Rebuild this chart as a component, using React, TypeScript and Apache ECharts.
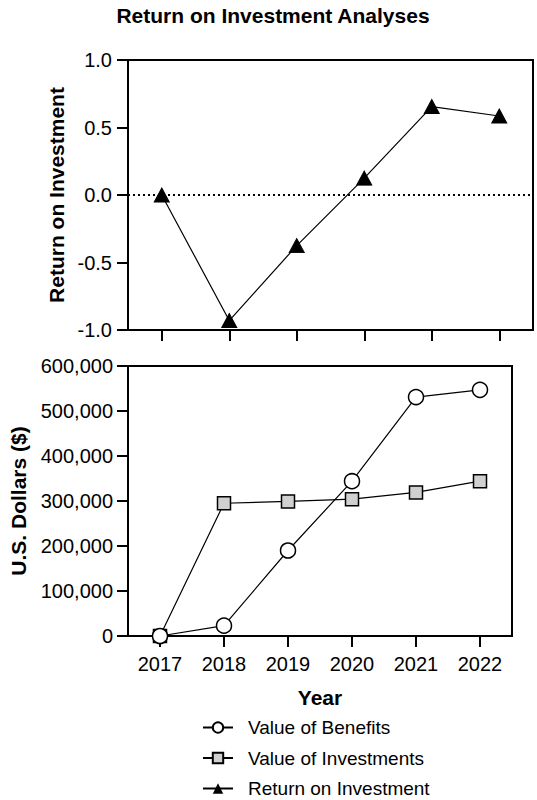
import React, { useEffect, useRef } from "react";
import * as echarts from "echarts";

const years = ["2017", "2018", "2019", "2020", "2021", "2022"];
const roi = [0.0, -0.93, -0.375, 0.125, 0.655, 0.585];
const benefits = [0, 23000, 190000, 344000, 531000, 547000];
const investments = [0, 295000, 299000, 304000, 319000, 344000];

const FONT = '"Liberation Sans", Arial, Helvetica, sans-serif';

export default function App() {
  const ref = useRef<HTMLDivElement>(null);
  useEffect(() => {
    if (!ref.current) return;
    const chart = echarts.init(ref.current, undefined, { renderer: "svg" });
    const axisLine = { show: true, onZero: false, lineStyle: { color: "#000", width: 2 } };
    const axisTick = { show: true, length: 11, lineStyle: { color: "#000", width: 2 } };
    chart.setOption({
      animation: false,
      backgroundColor: "#fff",
      textStyle: { fontFamily: FONT, color: "#000" },
      title: {
        text: "Return on Investment Analyses",
        left: 268,
        textAlign: "center",
        top: 0,
        textStyle: { fontFamily: FONT, fontSize: 21, fontWeight: "bold", color: "#000" },
      },
      grid: [
        { left: 128, top: 60, width: 405, height: 270, show: true, borderColor: "#000", borderWidth: 2 },
        { left: 118, top: 366, width: 394, height: 270, show: true, borderColor: "#000", borderWidth: 2 },
      ],
      xAxis: [
        {
          type: "category",
          gridIndex: 0,
          data: years,
          boundaryGap: true,
          axisLine,
          axisTick: { ...axisTick, alignWithLabel: true },
          axisLabel: { show: false },
          splitLine: { show: false },
        },
        {
          type: "category",
          gridIndex: 1,
          data: years,
          boundaryGap: true,
          axisLine,
          axisTick: { ...axisTick, alignWithLabel: true },
          axisLabel: { fontFamily: FONT, fontSize: 20, color: "#000", margin: 18 },
          splitLine: { show: false },
          name: "Year",
          nameLocation: "middle",
          nameGap: 51,
          nameTextStyle: { fontFamily: FONT, fontSize: 21, fontWeight: "bold", color: "#000" },
        },
      ],
      yAxis: [
        {
          type: "value",
          gridIndex: 0,
          min: -1,
          max: 1,
          interval: 0.5,
          axisLine,
          axisTick,
          splitLine: { show: false },
          axisLabel: {
            fontFamily: FONT,
            fontSize: 20,
            color: "#000",
            margin: 16,
            formatter: (v: number) => v.toFixed(1),
          },
          name: "Return on Investment",
          nameLocation: "middle",
          nameGap: 60,
          nameTextStyle: { fontFamily: FONT, fontSize: 21, fontWeight: "bold", color: "#000" },
        },
        {
          type: "value",
          gridIndex: 1,
          min: 0,
          max: 600000,
          interval: 100000,
          axisLine,
          axisTick,
          splitLine: { show: false },
          axisLabel: {
            fontFamily: FONT,
            fontSize: 20,
            color: "#000",
            margin: 15,
            formatter: (v: number) => v.toLocaleString("en-US"),
          },
          name: "U.S. Dollars ($)",
          nameLocation: "middle",
          nameGap: 99,
          nameTextStyle: { fontFamily: FONT, fontSize: 21, fontWeight: "bold", color: "#000" },
        },
      ],
      legend: {
        orient: "vertical",
        left: 202,
        top: 718,
        padding: 0,
        itemWidth: 30,
        itemHeight: 13,
        itemGap: 11.5,
        data: ["Value of Benefits", "Value of Investments", "Return on Investment"],
        textStyle: { fontFamily: FONT, fontSize: 19, color: "#000", padding: [0, 0, 0, 10] },
      },
      series: [
        {
          name: "Return on Investment",
          type: "line",
          xAxisIndex: 0,
          yAxisIndex: 0,
          data: roi,
          symbol: "triangle",
          symbolSize: [15, 14],
          lineStyle: { color: "#000", width: 1.2 },
          itemStyle: { color: "#000", borderColor: "#000" },
          z: 3,
          markLine: {
            silent: true,
            symbol: "none",
            label: { show: false },
            lineStyle: { color: "#000", width: 2, type: [2, 3] },
            data: [{ yAxis: 0 }],
            z: 1,
          },
        },
        {
          name: "Value of Investments",
          type: "line",
          xAxisIndex: 1,
          yAxisIndex: 1,
          data: investments,
          symbol: "rect",
          symbolSize: 13,
          lineStyle: { color: "#000", width: 1.2 },
          itemStyle: { color: "#d0d0d0", borderColor: "#000", borderWidth: 1.5 },
          z: 2,
        },
        {
          name: "Value of Benefits",
          type: "line",
          xAxisIndex: 1,
          yAxisIndex: 1,
          data: benefits,
          symbol: "circle",
          symbolSize: 15,
          lineStyle: { color: "#000", width: 1.2 },
          itemStyle: { color: "#fff", borderColor: "#000", borderWidth: 1.5 },
          z: 3,
        },
      ],
    });
    return () => chart.dispose();
  }, []);
  return (
    <div
      ref={ref}
      style={{ position: "fixed", left: 0, top: 0, width: 537, height: 800, background: "#fff" }}
    />
  );
}
